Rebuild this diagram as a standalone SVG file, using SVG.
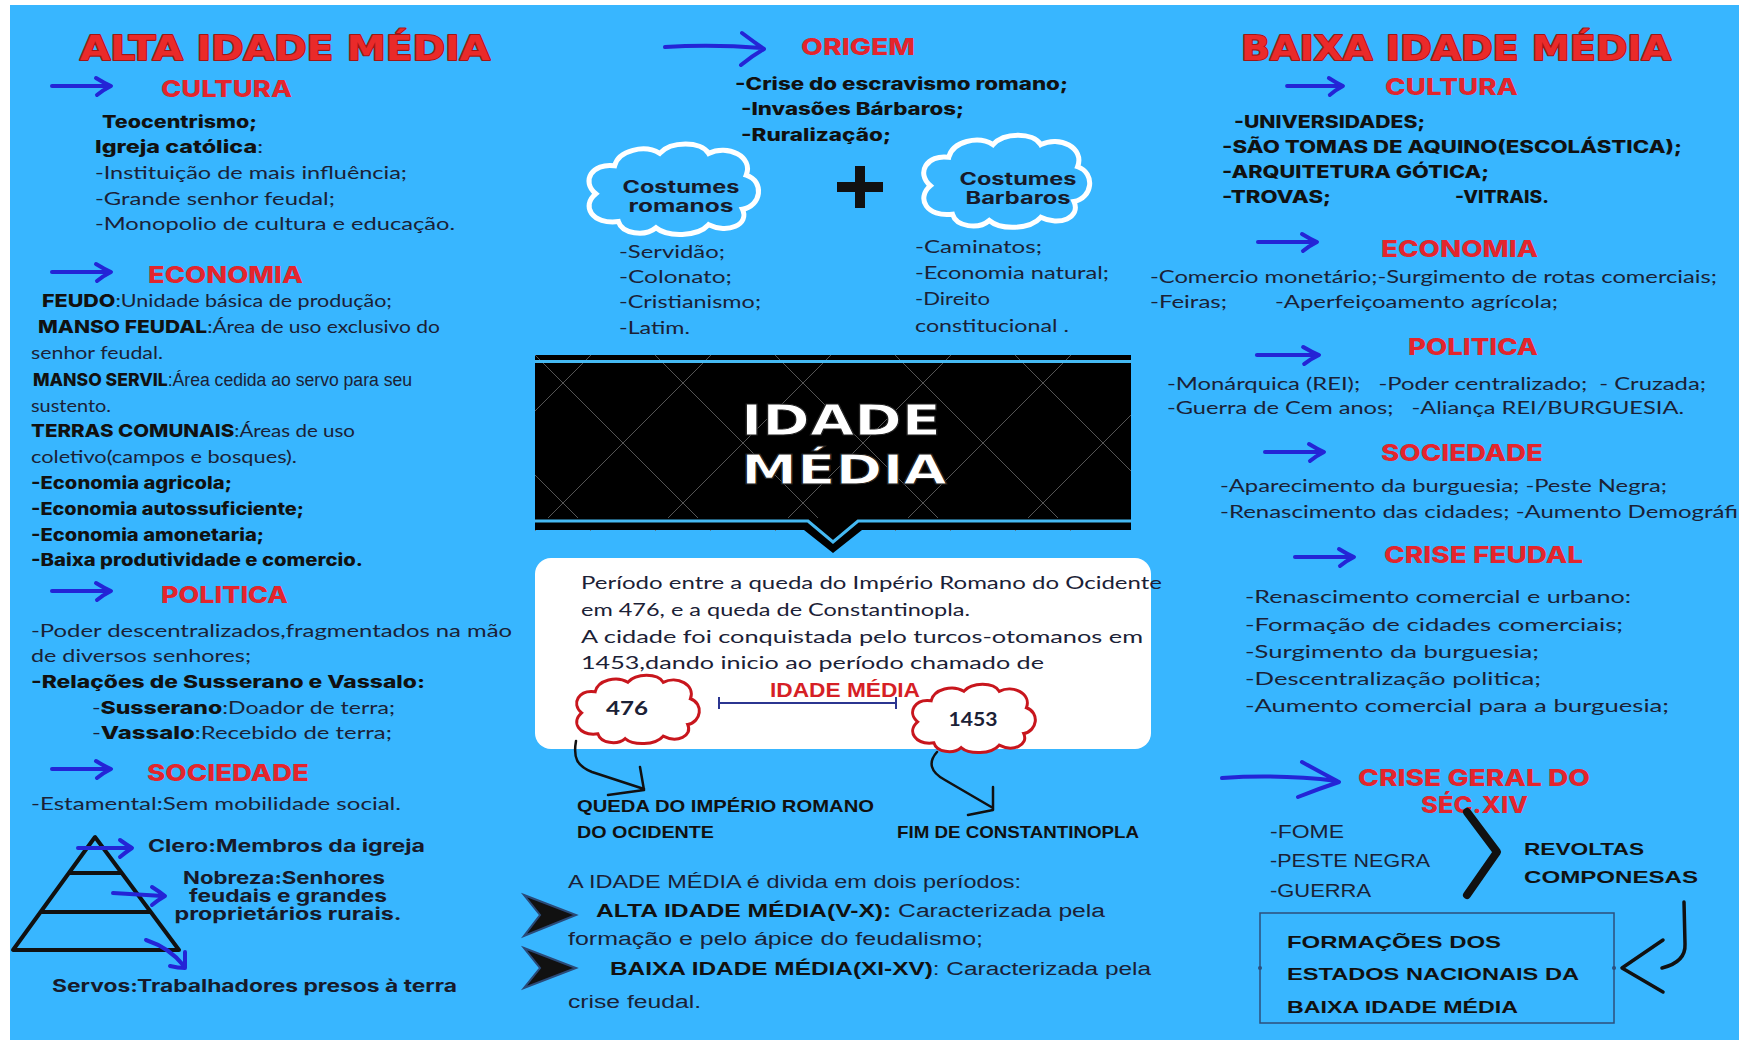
<svg xmlns="http://www.w3.org/2000/svg" xmlns:xlink="http://www.w3.org/1999/xlink" width="1739" height="1040" viewBox="0 0 1739 1040">
<style>
.b{font-family:Lato,"Noto Sans","Liberation Sans",sans-serif;font-size:18px;fill:#1b2136}
.bb{font-family:Inter,"Liberation Sans",sans-serif;font-weight:800;font-size:17px;fill:#111}
.st{font-weight:800;font-family:Inter,"Liberation Sans",sans-serif;fill:#111}
.h{font-family:Inter,"Liberation Sans",sans-serif;font-weight:800;font-size:23px;fill:#e3252d}
.t{font-family:"DejaVu Sans",sans-serif;font-weight:bold;font-size:34px;fill:#ea2a2a;stroke:#a01616;stroke-width:2.2;stroke-linejoin:round;paint-order:stroke}
.mb{font-family:Inter,"Liberation Sans",sans-serif;font-weight:700;font-size:17px;fill:#171a2a}
.cn{font-family:"Liberation Sans",sans-serif;font-size:18px;fill:#1b2136}
.cnb{font-family:"Liberation Sans",sans-serif;font-weight:bold;font-size:17px;fill:#111}
.blue{stroke:#2424d6;fill:none;stroke-width:4;stroke-linecap:round;stroke-linejoin:round}
.ink{stroke:#111;fill:none;stroke-linecap:round;stroke-linejoin:round}
.cw{fill:none;stroke:#fff;stroke-width:5}
.cr{fill:#fff;stroke:#c8161d;stroke-width:3}
</style>
<defs>
<g id="ba"><path d="M0,0 L57,0"/><path d="M44,-8 Q52,-3 59,0 Q51,4 45,9"/></g>
<path id="cloud" vector-effect="non-scaling-stroke" d="M22,52 C8,54 2,42 10,34 C2,26 8,14 20,16 C22,6 36,2 44,8 C50,0 66,0 70,8 C80,2 94,10 90,22 C100,26 98,42 88,44 C92,54 80,60 70,54 C64,62 48,62 42,56 C36,62 24,60 22,52 Z"/>
<clipPath id="bclip"><rect x="535" y="355" width="596" height="176"/></clipPath>
</defs>

<rect width="1739" height="1040" fill="#fff"/>
<rect x="10" y="5" width="1729" height="1035" fill="#38b6ff"/>

<g id="alta-idade-media">
<text class="t" x="80" y="60" textLength="410" lengthAdjust="spacingAndGlyphs">ALTA IDADE MÉDIA</text>
</g>

<g id="alta-cultura">
<use href="#ba" class="blue" transform="translate(52,86)"/>
<text class="h" x="161" y="97" textLength="131" lengthAdjust="spacingAndGlyphs">CULTURA</text>
<text class="bb" x="102" y="128" textLength="155" lengthAdjust="spacingAndGlyphs">Teocentrismo;</text>
<text class="b" x="95" y="153" textLength="168" lengthAdjust="spacingAndGlyphs"><tspan class="st">Igreja católica</tspan>:</text>
<text class="b" x="95" y="179" textLength="312" lengthAdjust="spacingAndGlyphs">-Instituição de mais influência;</text>
<text class="b" x="95" y="205" textLength="240" lengthAdjust="spacingAndGlyphs">-Grande senhor feudal;</text>
<text class="b" x="95" y="230" textLength="360" lengthAdjust="spacingAndGlyphs">-Monopolio de cultura e educação.</text>
</g>

<g id="alta-economia">
<use href="#ba" class="blue" transform="translate(52,272)"/>
<text class="h" x="148" y="283" textLength="155" lengthAdjust="spacingAndGlyphs">ECONOMIA</text>
<text class="b" x="42" y="307" textLength="350" lengthAdjust="spacingAndGlyphs"><tspan class="st">FEUDO</tspan>:Unidade básica de produção;</text>
<text class="b" x="38" y="333" textLength="402" lengthAdjust="spacingAndGlyphs"><tspan class="st">MANSO FEUDAL</tspan>:Área de uso exclusivo do</text>
<text class="b" x="31" y="359" textLength="132" lengthAdjust="spacingAndGlyphs">senhor feudal.</text>
<text class="cn" x="33" y="386" textLength="379" lengthAdjust="spacingAndGlyphs"><tspan class="st">MANSO SERVIL</tspan>:Área cedida ao servo para seu</text>
<text class="b" x="31" y="412" textLength="80" lengthAdjust="spacingAndGlyphs">sustento.</text>
<text class="b" x="31" y="437" textLength="324" lengthAdjust="spacingAndGlyphs"><tspan class="st">TERRAS COMUNAIS</tspan>:Áreas de uso</text>
<text class="b" x="31" y="463" textLength="266" lengthAdjust="spacingAndGlyphs">coletivo(campos e bosques).</text>
<text class="bb" x="31" y="489" textLength="201" lengthAdjust="spacingAndGlyphs">-Economia agricola;</text>
<text class="bb" x="31" y="515" textLength="273" lengthAdjust="spacingAndGlyphs">-Economia autossuficiente;</text>
<text class="bb" x="31" y="541" textLength="233" lengthAdjust="spacingAndGlyphs">-Economia amonetaria;</text>
<text class="bb" x="31" y="566" textLength="332" lengthAdjust="spacingAndGlyphs">-Baixa produtividade e comercio.</text>
</g>

<g id="alta-politica">
<use href="#ba" class="blue" transform="translate(52,591)"/>
<text class="h" x="161" y="603" textLength="127" lengthAdjust="spacingAndGlyphs">POLITICA</text>
<text class="b" x="31" y="637" textLength="481" lengthAdjust="spacingAndGlyphs">-Poder descentralizados,fragmentados na mão</text>
<text class="b" x="31" y="662" textLength="220" lengthAdjust="spacingAndGlyphs">de diversos senhores;</text>
<text class="bb" x="31" y="688" textLength="394" lengthAdjust="spacingAndGlyphs">-Relações de Susserano e Vassalo:</text>
<text class="b" x="92" y="714" textLength="303" lengthAdjust="spacingAndGlyphs">-<tspan class="st">Susserano</tspan>:Doador de terra;</text>
<text class="b" x="92" y="739" textLength="300" lengthAdjust="spacingAndGlyphs">-<tspan class="st">Vassalo</tspan>:Recebido de terra;</text>
</g>

<g id="alta-sociedade">
<use href="#ba" class="blue" transform="translate(52,769)"/>
<text class="h" x="147" y="781" textLength="162" lengthAdjust="spacingAndGlyphs">SOCIEDADE</text>
<text class="b" x="31" y="810" textLength="370" lengthAdjust="spacingAndGlyphs">-Estamental:Sem mobilidade social.</text>
</g>

<g id="piramide">
<path class="ink" stroke-width="4" d="M95,837 L13,950 L179,950 Z M69,873 L121,873 M41,912 L149,912"/>
<path class="blue" stroke-width="3.5" d="M78,848 L130,848 M120,840 Q127,845 132,848 Q126,852 120,857"/>
<path class="blue" stroke-width="3.5" d="M113,893 L163,896 M152,887 Q160,892 165,896 Q158,900 152,905"/>
<path class="blue" stroke-width="3.5" d="M146,940 Q170,948 184,966 M185,952 Q185,960 185,968 Q178,968 170,966"/>
<text class="mb" x="148" y="852" textLength="277" lengthAdjust="spacingAndGlyphs">Clero:Membros  da igreja</text>
<text class="mb" x="284" y="884" text-anchor="middle" textLength="202" lengthAdjust="spacingAndGlyphs">Nobreza:Senhores</text>
<text class="mb" x="288" y="902" text-anchor="middle" textLength="198" lengthAdjust="spacingAndGlyphs">feudais e grandes</text>
<text class="mb" x="288" y="920" text-anchor="middle" textLength="227" lengthAdjust="spacingAndGlyphs">proprietários rurais.</text>
<text class="mb" x="52" y="992" textLength="405" lengthAdjust="spacingAndGlyphs">Servos:Trabalhadores presos à terra</text>
</g>

<g id="origem">
<path class="blue" stroke-width="6" d="M665,47 Q712,44 762,48 M742,33 Q754,42 764,49 Q752,56 741,65"/>
<text class="h" x="801" y="55" font-size="21" textLength="114" lengthAdjust="spacingAndGlyphs">ORIGEM</text>
<text class="bb" x="735" y="90" textLength="333" lengthAdjust="spacingAndGlyphs">-Crise do escravismo romano;</text>
<text class="bb" x="741" y="115" textLength="223" lengthAdjust="spacingAndGlyphs">-Invasões Bárbaros;</text>
<text class="bb" x="741" y="141" textLength="150" lengthAdjust="spacingAndGlyphs">-Ruralização;</text>
</g>

<g id="costumes-romanos">
<use href="#cloud" class="cw" transform="translate(577,141) scale(1.88,1.55)"/>
<text class="mb" font-size="21" x="681" y="193" text-anchor="middle" textLength="117" lengthAdjust="spacingAndGlyphs">Costumes</text>
<text class="mb" font-size="21" x="681" y="212" text-anchor="middle" textLength="105" lengthAdjust="spacingAndGlyphs">romanos</text>
<text class="b" x="619" y="258" textLength="106" lengthAdjust="spacingAndGlyphs">-Servidão;</text>
<text class="b" x="619" y="283" textLength="113" lengthAdjust="spacingAndGlyphs">-Colonato;</text>
<text class="b" x="619" y="308" textLength="142" lengthAdjust="spacingAndGlyphs">-Cristianismo;</text>
<text class="b" x="619" y="334" textLength="71" lengthAdjust="spacingAndGlyphs">-Latim.</text>
</g>

<g id="mais">
<path d="M837,187 H883 M860,166 V208" stroke="#111" stroke-width="10"/>
</g>

<g id="costumes-barbaros">
<use href="#cloud" class="cw" transform="translate(912,132) scale(1.84,1.58)"/>
<text class="mb" font-size="21" x="1018" y="185" text-anchor="middle" textLength="117" lengthAdjust="spacingAndGlyphs">Costumes</text>
<text class="mb" font-size="21" x="1018" y="204" text-anchor="middle" textLength="105" lengthAdjust="spacingAndGlyphs">Barbaros</text>
<text class="b" x="915" y="253" textLength="127" lengthAdjust="spacingAndGlyphs">-Caminatos;</text>
<text class="b" x="915" y="279" textLength="194" lengthAdjust="spacingAndGlyphs">-Economia natural;</text>
<text class="b" x="915" y="305" textLength="75" lengthAdjust="spacingAndGlyphs">-Direito</text>
<text class="b" x="915" y="332" textLength="154" lengthAdjust="spacingAndGlyphs">constitucional .</text>
</g>

<g id="banner">
<rect x="535" y="355" width="596" height="163" fill="#000"/>
<g clip-path="url(#bclip)" stroke="#6a6a6a" stroke-width="1" opacity="0.8">
<path d="M415,355 L591,531 M535,355 L711,531 M655,355 L831,531 M775,355 L951,531 M895,355 L1071,531 M1015,355 L1191,531 M355,355 L531,531 M1135,355 L1311,531"/>
<path d="M591,355 L415,531 M711,355 L535,531 M831,355 L655,531 M951,355 L775,531 M1071,355 L895,531 M1191,355 L1015,531 M1311,355 L1135,531"/>
</g>
<path d="M535,361.5 H1131" stroke="#45b9f2" stroke-width="3"/>
<path d="M535,518 H1131 V530 H862 L833,553 L804,530 H535 Z" fill="#000"/>
<path d="M535,521 H808 L833,542 L858,521 H1131" stroke="#45b9f2" stroke-width="3" fill="none"/>
<text x="841" y="435" text-anchor="middle" font-family="'DejaVu Sans',sans-serif" font-weight="bold" font-size="42" fill="#fff" stroke="#222" stroke-width="1" textLength="200" lengthAdjust="spacingAndGlyphs">IDADE</text>
<text x="844" y="484" text-anchor="middle" font-family="'DejaVu Sans',sans-serif" font-weight="bold" font-size="40" fill="#fff" stroke="#222" stroke-width="1" textLength="206" lengthAdjust="spacingAndGlyphs">MÉDIA</text>
</g>

<g id="periodo">
<rect x="535" y="558" width="616" height="191" rx="16" fill="#fff"/>
<text class="b" x="581" y="589" textLength="581" lengthAdjust="spacingAndGlyphs">Período entre a queda do  Império Romano do Ocidente</text>
<text class="b" x="581" y="616" textLength="389" lengthAdjust="spacingAndGlyphs">em 476, e a  queda de Constantinopla.</text>
<text class="b" x="581" y="643" textLength="562" lengthAdjust="spacingAndGlyphs">A cidade foi conquistada pelo turcos-otomanos em</text>
<text class="b" x="581" y="669" textLength="463" lengthAdjust="spacingAndGlyphs">1453,dando inicio ao período chamado de</text>
<text x="770" y="697" font-family="'Liberation Sans',sans-serif" font-weight="bold" font-size="20" fill="#d61f26" textLength="150" lengthAdjust="spacingAndGlyphs">IDADE MÉDIA</text>
<path d="M719,703 H896 M719,697 V709 M896,697 V709" stroke="#2b3590" stroke-width="2" fill="none"/>
</g>

<g id="ano-476">
<use href="#cloud" class="cr" transform="translate(568,673) scale(1.36,1.17)"/>
<text class="b" font-weight="bold" x="627" y="715" text-anchor="middle" font-size="20" textLength="42" lengthAdjust="spacingAndGlyphs">476</text>
</g>

<g id="ano-1453">
<use href="#cloud" class="cr" transform="translate(904,682) scale(1.36,1.17)"/>
<text class="b" font-weight="bold" x="973" y="726" text-anchor="middle" font-size="20" textLength="49" lengthAdjust="spacingAndGlyphs">1453</text>
</g>

<g id="queda">
<text class="cnb" x="577" y="812" textLength="297" lengthAdjust="spacingAndGlyphs">QUEDA DO IMPÉRIO ROMANO</text>
<text class="cnb" x="577" y="838" textLength="137" lengthAdjust="spacingAndGlyphs">DO OCIDENTE</text>
</g>

<g id="fim">
<text class="cnb" x="897" y="838" textLength="242" lengthAdjust="spacingAndGlyphs">FIM DE CONSTANTINOPLA</text>
</g>

<g id="divisao">
<text class="cn" x="568" y="888" font-size="19" textLength="453" lengthAdjust="spacingAndGlyphs">A IDADE MÉDIA é divida em dois períodos:</text>
<polygon points="524,895 576,915 524,936 540,915" fill="#111" stroke="#2a4a78" stroke-width="2"/>
<text class="cn" x="596" y="917" font-size="19" textLength="509" lengthAdjust="spacingAndGlyphs"><tspan font-weight="bold" fill="#111">ALTA IDADE MÉDIA(V-X):</tspan> Caracterizada pela</text>
<text class="cn" x="568" y="945" font-size="19" textLength="415" lengthAdjust="spacingAndGlyphs">formação e pelo ápice do feudalismo;</text>
<polygon points="524,948 576,968 524,988 540,968" fill="#111" stroke="#2a4a78" stroke-width="2"/>
<text class="cn" x="610" y="975" font-size="19" textLength="541" lengthAdjust="spacingAndGlyphs"><tspan font-weight="bold" fill="#111">BAIXA IDADE MÉDIA(XI-XV)</tspan>: Caracterizada pela</text>
<text class="cn" x="568" y="1008" font-size="19" textLength="133" lengthAdjust="spacingAndGlyphs">crise feudal.</text>
</g>

<g id="baixa-idade-media">
<text class="t" x="1241" y="60" textLength="430" lengthAdjust="spacingAndGlyphs">BAIXA IDADE MÉDIA</text>
</g>

<g id="baixa-cultura">
<use href="#ba" class="blue" transform="translate(1287,86) scale(0.95,1)"/>
<text class="h" x="1385" y="95" textLength="133" lengthAdjust="spacingAndGlyphs">CULTURA</text>
<text class="bb" x="1234" y="128" textLength="191" lengthAdjust="spacingAndGlyphs">-UNIVERSIDADES;</text>
<text class="bb" x="1222" y="153" textLength="460" lengthAdjust="spacingAndGlyphs">-SÃO TOMAS DE AQUINO(ESCOLÁSTICA);</text>
<text class="bb" x="1222" y="178" textLength="267" lengthAdjust="spacingAndGlyphs">-ARQUITETURA GÓTICA;</text>
<text class="bb" x="1222" y="203" textLength="109" lengthAdjust="spacingAndGlyphs">-TROVAS;</text>
<text class="bb" x="1455" y="203" textLength="94" lengthAdjust="spacingAndGlyphs">-VITRAIS.</text>
</g>

<g id="baixa-economia">
<use href="#ba" class="blue" transform="translate(1258,242)"/>
<text class="h" x="1381" y="257" textLength="157" lengthAdjust="spacingAndGlyphs">ECONOMIA</text>
<text class="b" x="1150" y="283" textLength="567" lengthAdjust="spacingAndGlyphs">-Comercio monetário;-Surgimento de rotas comerciais;</text>
<text class="b" x="1150" y="308" textLength="77" lengthAdjust="spacingAndGlyphs">-Feiras;</text>
<text class="b" x="1275" y="308" textLength="283" lengthAdjust="spacingAndGlyphs">-Aperfeiçoamento agrícola;</text>
</g>

<g id="baixa-politica">
<use href="#ba" class="blue" transform="translate(1257,355) scale(1.05,1)"/>
<text class="h" x="1408" y="355" textLength="130" lengthAdjust="spacingAndGlyphs">POLITICA</text>
<text class="b" x="1167" y="390" textLength="539" lengthAdjust="spacingAndGlyphs" xml:space="preserve">-Monárquica (REI);   -Poder centralizado;  - Cruzada;</text>
<text class="b" x="1167" y="414" textLength="517" lengthAdjust="spacingAndGlyphs" xml:space="preserve">-Guerra de Cem anos;   -Aliança REI/BURGUESIA.</text>
</g>

<g id="baixa-sociedade">
<use href="#ba" class="blue" transform="translate(1265,452)"/>
<text class="h" x="1381" y="461" textLength="162" lengthAdjust="spacingAndGlyphs">SOCIEDADE</text>
<text class="b" x="1220" y="492" textLength="447" lengthAdjust="spacingAndGlyphs">-Aparecimento da burguesia; -Peste Negra;</text>
<text class="b" x="1220" y="518" textLength="518" lengthAdjust="spacingAndGlyphs">-Renascimento das cidades; -Aumento Demográfi</text>
</g>

<g id="crise-feudal">
<use href="#ba" class="blue" transform="translate(1295,557)"/>
<text class="h" x="1384" y="563" textLength="199" lengthAdjust="spacingAndGlyphs">CRISE FEUDAL</text>
<text class="b" x="1245" y="603" textLength="386" lengthAdjust="spacingAndGlyphs">-Renascimento comercial e urbano:</text>
<text class="b" x="1245" y="631" textLength="378" lengthAdjust="spacingAndGlyphs">-Formação de cidades comerciais;</text>
<text class="b" x="1245" y="658" textLength="294" lengthAdjust="spacingAndGlyphs">-Surgimento da burguesia;</text>
<text class="b" x="1245" y="685" textLength="296" lengthAdjust="spacingAndGlyphs">-Descentralização politica;</text>
<text class="b" x="1245" y="712" textLength="424" lengthAdjust="spacingAndGlyphs">-Aumento comercial para a burguesia;</text>
</g>

<g id="crise-geral">
<path class="blue" stroke-width="7" d="M1222,778 Q1280,774 1337,781 M1302,762 Q1322,773 1339,782 Q1318,789 1298,797"/>
<text class="h" x="1358" y="786" font-size="21" textLength="232" lengthAdjust="spacingAndGlyphs">CRISE GERAL DO</text>
<text class="h" x="1421" y="813" font-size="21" textLength="107" lengthAdjust="spacingAndGlyphs">SÉC.XIV</text>
<text class="cn" x="1270" y="838" textLength="74" lengthAdjust="spacingAndGlyphs">-FOME</text>
<text class="cn" x="1270" y="867" textLength="160" lengthAdjust="spacingAndGlyphs">-PESTE NEGRA</text>
<text class="cn" x="1270" y="897" textLength="101" lengthAdjust="spacingAndGlyphs">-GUERRA</text>
</g>

<g id="revoltas">
<text class="cnb" x="1524" y="855" font-size="19" textLength="120" lengthAdjust="spacingAndGlyphs">REVOLTAS</text>
<text class="cnb" x="1524" y="883" font-size="19" textLength="174" lengthAdjust="spacingAndGlyphs">COMPONESAS</text>
</g>

<g id="formacoes">
<rect x="1260" y="913" width="354" height="110" fill="none" stroke="#2c4f7c" stroke-width="1.5"/>
<circle cx="1260" cy="968" r="2" fill="#2c4f7c"/>
<circle cx="1614" cy="968" r="2" fill="#2c4f7c"/>
<text class="cnb" x="1287" y="948" font-size="19" textLength="214" lengthAdjust="spacingAndGlyphs">FORMAÇÕES DOS</text>
<text class="cnb" x="1287" y="980" font-size="19" textLength="292" lengthAdjust="spacingAndGlyphs">ESTADOS NACIONAIS DA</text>
<text class="cnb" x="1287" y="1013" font-size="19" textLength="231" lengthAdjust="spacingAndGlyphs">BAIXA IDADE MÉDIA</text>
</g>

<g id="connectors">
<path class="ink" stroke-width="2.5" d="M576,741 C573,758 577,766 592,772 L644,789 M640,767 L644,790 L608,795"/>
<path class="ink" stroke-width="2.5" d="M937,752 C928,762 930,772 945,780 L993,808 M993,787 L993,810 L968,815"/>
<path class="ink" stroke-width="8" d="M1467,812 L1497,852 L1467,895"/>
<path class="ink" stroke-width="3.5" d="M1684,902 L1685,944 Q1686,962 1662,968 M1663,940 L1622,968 L1663,992"/>
</g>
</svg>
